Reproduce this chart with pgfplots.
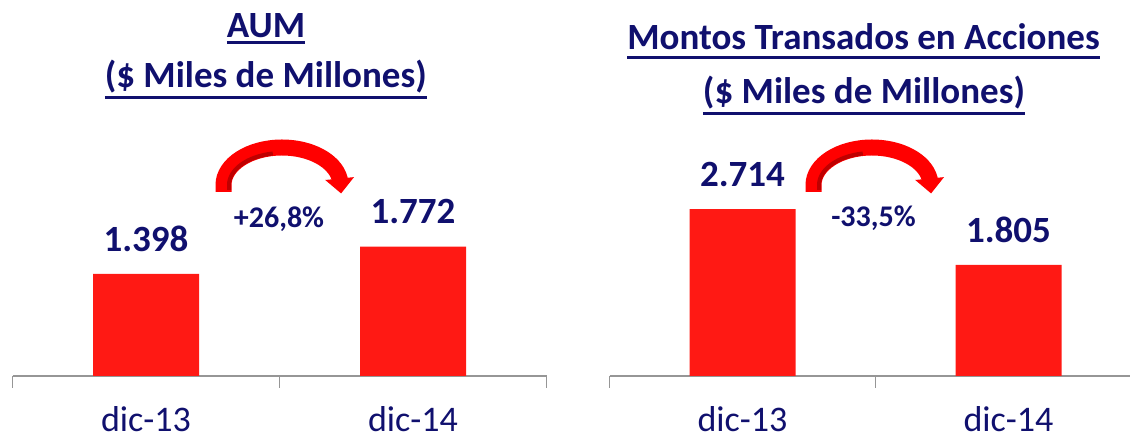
\documentclass[border=0pt]{standalone}
\usepackage{pgfplots}
\pgfplotsset{compat=1.18}
\usepackage{fontspec}
\setmainfont{Carlito}
\usetikzlibrary{arrows.meta}
\definecolor{navy}{RGB}{16,16,110}
\definecolor{barred}{RGB}{255,25,20}
\definecolor{axgray}{RGB}{150,150,150}
\definecolor{darkred}{RGB}{190,0,0}
\newcommand\ul[2][2.5pt]{\setbox0\hbox{#2}\leavevmode\rlap{\raisebox{-\dimexpr\dp0+#1+0.75pt\relax}{\rule{\wd0}{1.5pt}}}\box0}
\pgfplotsset{mybar/.style={ybar, scale only axis, axis x line*=bottom, axis y line=none,
  axis line style={-,draw=axgray,line width=0.75pt}, ymin=0, xmin=-0.5, bar width=53pt,
  xtick={-0.5,0.5,1.5}, xticklabels={}, tick align=outside, major tick length=6pt,
  tick style={draw=axgray,line width=0.75pt},
  extra x ticks={0,1}, extra x tick labels={dic-13,dic-14}, extra x tick style={major tick length=0pt},
  xticklabel style={font=\fontsize{18}{20}\selectfont, text=navy, anchor=base, yshift=-28pt, inner sep=0pt},
  nodes near coords={\pgfplotspointmeta},
  nodes near coords style={font=\bfseries\fontsize{18.5}{20}\selectfont, text=navy, inner sep=0pt, yshift=11pt},
  clip=false, enlargelimits=false}}
\begin{document}
\begin{tikzpicture}[x=1pt,y=1pt]
\useasboundingbox (0,0) rectangle (565,219);
\begin{axis}[mybar, at={(6.25pt,31pt)}, anchor=south west, width=267pt, height=73pt, xmax=1.5, ymax=2]
\addplot[fill=barred, draw=none, point meta=explicit symbolic] coordinates {(0,1.398)[1.398] (1,1.772)[1.772]};
\end{axis}
\begin{axis}[mybar, at={(304.75pt,31pt)}, anchor=south west, width=260.3pt, height=92.25pt, xmax=1.457, ymax=3]
\addplot[fill=barred, draw=none, point meta=explicit symbolic] coordinates {(0,2.714)[2.714] (1,1.805)[1.805]};
\end{axis}
\begin{scope}[every node/.style={anchor=base, text=navy, font=\bfseries\fontsize{18.5}{20}\selectfont}]
\node at (133,200.35) {\ul{AUM}};
\node at (132.9,175.35) {\ul{(\$ Miles de Millones)}};
\node at (431.75,194.35) {\ul[4pt]{Montos Transados en Acciones}};
\node at (432,167.35) {\ul{(\$ Miles de Millones)}};
\end{scope}
\begin{scope}[every node/.style={anchor=base, text=navy, font=\bfseries\fontsize{15}{18}\selectfont}]
\node at (139.5,105) {+26,8\%};
\node at (436.75,105.5) {-33,5\%};
\end{scope}
\foreach \dx in {0,295} {
  \draw[red, line width=8pt, -{Triangle[length=7.5pt,width=14pt]}] (111.75+\dx,123) -- (111.75+\dx,126.5) arc[start angle=180,end angle=10,x radius=29.25,y radius=18.75] -- ++(0.75,-7.5);
  \draw[darkred, line width=2pt] (114.5+\dx,124) -- (114.5+\dx,126.5) arc[start angle=180,end angle=100,x radius=26.5,y radius=16];
}
\end{tikzpicture}
\end{document}
